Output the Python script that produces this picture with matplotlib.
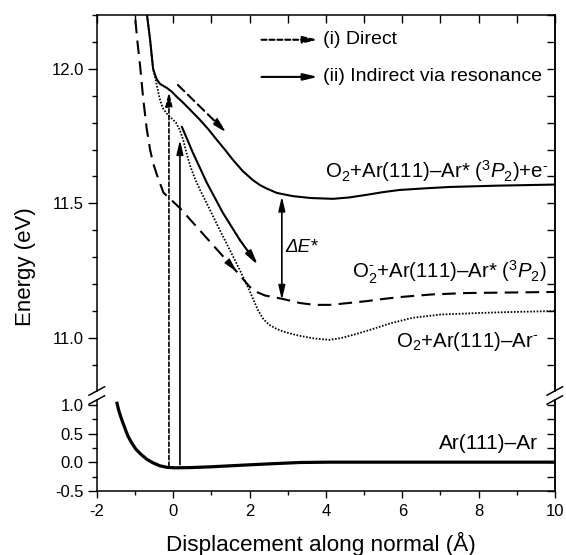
import matplotlib
matplotlib.use("Agg")
import matplotlib.pyplot as plt
from matplotlib.patches import ConnectionPatch
from matplotlib.lines import Line2D
import numpy as np

plt.rcParams['font.family'] = ['Liberation Sans', 'DejaVu Sans']
plt.rcParams['mathtext.fontset'] = 'custom'
plt.rcParams['mathtext.rm'] = 'Liberation Sans'
plt.rcParams['mathtext.it'] = 'Liberation Sans:italic'
plt.rcParams['mathtext.default'] = 'regular'
plt.rcParams['axes.unicode_minus'] = False

# O2 + Ar(111)-Ar* (3P2) + e-   (solid)
x_neutral = [-0.76, -0.69, -0.61, -0.56, -0.53, -0.48, -0.43, -0.35, -0.17, -0.04, 0.09,
             0.23, 0.44, 0.70, 0.92, 1.14, 1.35, 1.56, 1.82, 2.08, 2.27, 2.45, 2.71,
             3.13, 3.60, 4.18, 4.60, 5.07, 5.50, 5.93, 6.60, 7.24, 8.50, 10.0]
e_neutral = [12.40, 12.20, 12.11, 12.04, 12.00, 11.978, 11.96, 11.944, 11.929, 11.915, 11.896,
             11.878, 11.848, 11.81, 11.775, 11.736, 11.70, 11.662, 11.62, 11.587, 11.568,
             11.555, 11.539, 11.527, 11.52, 11.517, 11.522, 11.532, 11.542, 11.55, 11.556,
             11.561, 11.566, 11.57]

# O2- + Ar(111)-Ar* (3P2)   (long dashes)
x_anion = [-1.04, -1.00, -0.94, -0.87, -0.79, -0.70, -0.61, -0.53, -0.44, -0.35, -0.26,
           0.17, 1.67, 1.85, 2.00, 2.20, 2.40, 2.61, 2.87, 3.31, 3.70, 4.10, 4.60, 5.07,
           5.50, 5.93, 6.80, 7.69, 10.0]
e_anion = [12.40, 12.19, 12.10, 12.01, 11.89, 11.78, 11.70, 11.65, 11.61, 11.575, 11.54,
           11.483, 11.245, 11.215, 11.19, 11.17, 11.158, 11.152, 11.145, 11.13, 11.123,
           11.123, 11.13, 11.137, 11.145, 11.152, 11.162, 11.167, 11.171]

# O2 + Ar(111)-Ar-   (dotted)
x_ar_anion = [-0.76, -0.69, -0.61, -0.53, -0.48, -0.42, -0.36, -0.28, -0.18, -0.09, 0.0,
              0.07, 0.16, 0.25, 0.34, 0.44, 0.57, 0.70, 0.96, 1.22, 1.48, 1.74, 1.95,
              2.09, 2.22, 2.35, 2.50, 2.70, 2.88, 3.05, 3.31, 3.70, 4.10, 4.40, 4.75,
              5.15, 5.70, 6.27, 7.00, 8.03, 9.00, 10.0]
e_ar_anion = [12.40, 12.20, 12.11, 12.00, 11.97, 11.93, 11.89, 11.855, 11.835, 11.822, 11.81,
              11.80, 11.775, 11.74, 11.69, 11.64, 11.59, 11.55, 11.476, 11.40, 11.327,
              11.253, 11.19, 11.145, 11.103, 11.072, 11.05, 11.034, 11.024, 11.017, 11.008,
              10.998, 10.993, 11.0, 11.013, 11.03, 11.055, 11.075, 11.087, 11.093, 11.097,
              11.10]

# Ar(111)-Ar ground state (thick solid, lower panel)
x_ground = [-1.476, -1.424, -1.346, -1.267, -1.188, -1.084, -0.979, -0.848, -0.691,
            -0.534, -0.351, -0.168, 0.042, 0.435, 0.958, 1.743, 2.529, 3.314, 4.10, 10.0]
e_ground = [1.030, 0.890, 0.733, 0.593, 0.454, 0.332, 0.227, 0.140, 0.052, -0.009,
            -0.061, -0.087, -0.096, -0.092, -0.079, -0.052, -0.026, -0.003, 0.003, 0.003]

# excitation arrows: (x, start energy, tip energy)
x_direct, e_direct_0, e_direct_1 = -0.115, -0.07, 11.916
x_indirect, e_indirect_0, e_indirect_1 = 0.173, -0.04, 11.736

# trajectory arrows along the curves
x_arr_direct = [0.12, 1.40]
e_arr_direct = [11.94, 11.762]
x_arr_indirect = [0.225, 0.513, 0.880, 1.298, 1.743, 2.215]
e_arr_indirect = [11.784, 11.688, 11.576, 11.465, 11.364, 11.271]

# Delta E* arrow
x_de, e_de_top, e_de_bot = 2.843, 11.526, 11.141

labels = [r'O$_2$+Ar(111)–Ar* ($^3\mathit{P}_2$)+e$^{\text{-}}$',
          r'O$_2^{\text{-}}$+Ar(111)–Ar* ($^3\mathit{P}_2$)',
          r'O$_2$+Ar(111)–Ar$^{\text{-}}$']
label_x = [9.84, 9.79, 9.57]
label_y = [11.595, 11.223, 10.967]

W, H = 566, 555
fig = plt.figure(figsize=(W / 100, H / 100), dpi=100)


def fx(px):
    return px / W


def fy(py):
    return 1 - py / H


left, right = 97, 555
ax_up = fig.add_axes([fx(left), fy(391), (right - left) / W, (391 - 15) / H])
ax_lo = fig.add_axes([fx(left), fy(491), (right - left) / W, (491 - 400) / H])

for ax in (ax_up, ax_lo):
    ax.set_xlim(-2, 10)
    for s in ax.spines.values():
        s.set_linewidth(1.1)
ax_up.set_ylim(10.803, 12.2)
ax_lo.set_ylim(-0.5, 1.087)
ax_up.spines['bottom'].set_visible(False)
ax_lo.spines['top'].set_visible(False)

# curves
ax_up.plot(x_neutral, e_neutral, color='k', lw=1.5)
ax_up.plot(x_anion, e_anion, color='k', lw=1.5, ls=(0, (6.5, 3.5)))
ax_up.plot(x_ar_anion, e_ar_anion, color='k', lw=1.3, ls=(0, (0.9, 0.9)))
ax_lo.plot(x_ground, e_ground, color='k', lw=2.3)

head = '-|>,head_length=0.85,head_width=0.2'

# vertical excitation arrows across the break
for xv, e0, e1, ls in [(x_direct, e_direct_0, e_direct_1, (0, (2.5, 1.5))),
                       (x_indirect, e_indirect_0, e_indirect_1, '-')]:
    con = ConnectionPatch(xyA=(xv, e0), coordsA=ax_lo.transData,
                          xyB=(xv, e1), coordsB=ax_up.transData,
                          arrowstyle=head, mutation_scale=10, lw=1.2, ls=ls,
                          color='k', fc='k', shrinkA=0, shrinkB=0)
    fig.add_artist(con)

# direct (dashed) trajectory arrow
ax_up.annotate('', xy=(x_arr_direct[1], e_arr_direct[1]),
               xytext=(x_arr_direct[0], e_arr_direct[0]),
               arrowprops=dict(arrowstyle=head, mutation_scale=10, lw=1.5,
                               ls=(0, (4.3, 2.4)), color='k', fc='k',
                               shrinkA=0, shrinkB=0))
# indirect (solid) trajectory arrow
ax_up.plot(x_arr_indirect[:-1], e_arr_indirect[:-1], color='k', lw=1.5)
ax_up.annotate('', xy=(x_arr_indirect[-1], e_arr_indirect[-1]),
               xytext=(x_arr_indirect[-2], e_arr_indirect[-2]),
               arrowprops=dict(arrowstyle=head, mutation_scale=10, lw=1.5,
                               color='k', shrinkA=0, shrinkB=0))
# arrowhead on the long-dashed curve
ax_up.annotate('', xy=(x_anion[12], e_anion[12]),
               xytext=(x_anion[12] - 0.15 * (x_anion[12] - x_anion[11]),
                       e_anion[12] - 0.15 * (e_anion[12] - e_anion[11])),
               arrowprops=dict(arrowstyle=head, mutation_scale=10, lw=1.0,
                               color='k', shrinkA=0, shrinkB=0))

# Delta E*
ax_up.annotate('', xy=(x_de, e_de_bot), xytext=(x_de, e_de_top),
               arrowprops=dict(arrowstyle='<|-|>,head_length=0.85,head_width=0.2',
                               mutation_scale=10, lw=1.2, color='k',
                               shrinkA=0, shrinkB=0))
ax_up.text(2.93, 11.335, 'ΔE*', fontsize=13.5, fontstyle='italic', va='center', ha='left')

# legend
ax_up.annotate('', xy=(3.79, 12.108), xytext=(2.31, 12.108),
               arrowprops=dict(arrowstyle=head, mutation_scale=10, lw=1.5,
                               ls=(0, (2.4, 1.4)), color='k', fc='k',
                               shrinkA=0, shrinkB=0))
ax_up.annotate('', xy=(3.79, 11.97), xytext=(2.31, 11.97),
               arrowprops=dict(arrowstyle=head, mutation_scale=10, lw=1.5,
                               color='k', shrinkA=0, shrinkB=0))
ax_up.text(3.93, 12.108, '(i) Direct', fontsize=14, va='center', ha='left')
ax_up.text(3.93, 11.97, '(ii) Indirect via resonance', fontsize=14, va='center', ha='left')

# curve labels
for t, lx, ly in zip(labels, label_x, label_y):
    ax_up.text(lx, ly, t, fontsize=14.7, ha='right', va='baseline')
ax_lo.text(9.55, 0.227, 'Ar(111)–Ar', fontsize=15, ha='right', va='baseline')

# ticks
ax_up.set_yticks([11.0, 11.5, 12.0])
ax_up.set_yticks(np.arange(10.9, 12.21, 0.1), minor=True)
ax_up.set_yticklabels(['11.0', '11.5', '12.0'])
ax_up.tick_params(axis='y', which='major', direction='out', length=6.5, width=1.0,
                  labelsize=12, right=False, pad=3)
ax_up.tick_params(axis='y', which='minor', direction='out', length=3.5, width=1.0, right=False)
ax_up.set_xticks(np.arange(-2, 11, 1))
ax_up.tick_params(axis='x', which='both', direction='in', length=6, width=1.0,
                  bottom=False, top=True, labelbottom=False, labeltop=False)
sec_up = ax_up.secondary_yaxis('right')
sec_up.set_yticks(np.arange(10.9, 12.21, 0.1))
sec_up.tick_params(direction='in', length=6, width=1.0, labelright=False)
sec_up.spines['right'].set_linewidth(1.1)

ax_lo.set_yticks([-0.5, 0.0, 0.5, 1.0])
ax_lo.set_yticklabels(['-0.5', '0.0', '0.5', '1.0'])
ax_lo.set_yticks([-0.25, 0.25, 0.75], minor=True)
ax_lo.tick_params(axis='y', which='major', direction='out', length=6.5, width=1.0,
                  labelsize=12, right=False, pad=3)
ax_lo.tick_params(axis='y', which='minor', direction='out', length=3.5, width=1.0, right=False)
ax_lo.set_xticks(np.arange(-2, 11, 2))
ax_lo.set_xticks(np.arange(-1, 10, 2), minor=True)
ax_lo.tick_params(axis='x', which='major', direction='out', length=5, width=1.0,
                  labelsize=12, top=False, pad=4)
ax_lo.tick_params(axis='x', which='minor', direction='out', length=3, width=1.0, top=False)
sec_lo = ax_lo.secondary_yaxis('right')
sec_lo.set_yticks(np.arange(-0.5, 1.01, 0.25))
sec_lo.tick_params(direction='in', length=6, width=1.0, labelright=False)
sec_lo.spines['right'].set_linewidth(1.1)

# axis break marks
for xc in (left, right):
    for yc in (391, 400):
        fig.add_artist(Line2D([fx(xc - 8), fx(xc + 7.5)], [fy(yc + 4.2), fy(yc - 4.2)],
                              color='k', lw=1.1))

fig.text(fx(25), fy(267), 'Energy (eV)', rotation=90, fontsize=16, ha='center', va='center')
fig.text(fx(321), fy(551), 'Displacement along normal (Å)', fontsize=16.2,
         ha='center', va='baseline')

fig.savefig('out.png', dpi=100)
